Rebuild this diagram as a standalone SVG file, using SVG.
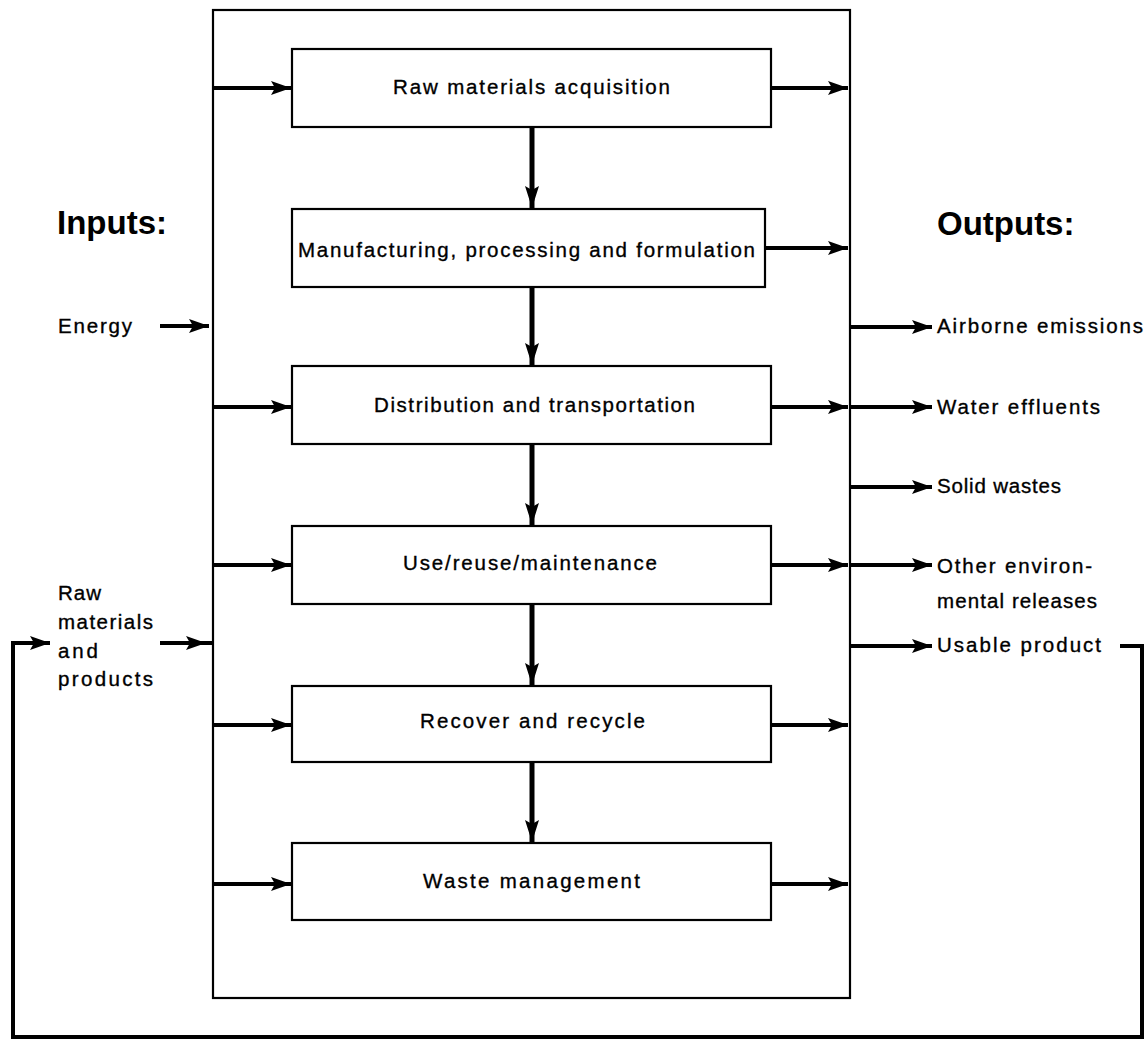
<svg xmlns="http://www.w3.org/2000/svg" width="1147" height="1041" viewBox="0 0 1147 1041">
  <style>
    .frame { fill: none; stroke: #000; stroke-width: 2.2; }
    .box { fill: #fff; stroke: #000; stroke-width: 2.2; }
    .lbl { font-family: "Liberation Sans", Arial, sans-serif; font-size: 20.5px; fill: #000; stroke: #000; stroke-width: 0.35; }
    .head { font-family: "Liberation Sans", Arial, sans-serif; font-size: 33px; font-weight: bold; fill: #000; }
    .flow { fill: none; stroke: #000; stroke-width: 4; marker-end: url(#ah); }
    .down { fill: none; stroke: #000; stroke-width: 5; marker-end: url(#ahv); }
    .loop { fill: none; stroke: #000; stroke-width: 4; stroke-linejoin: miter; }
  </style>
  <defs>
    <marker id="ah" markerUnits="userSpaceOnUse" markerWidth="22" markerHeight="14" refX="20" refY="7" orient="auto">
      <path d="M0,0 L20,7 L0,14 L4,7 z" fill="#000"/>
    </marker>
    <marker id="ahv" markerUnits="userSpaceOnUse" markerWidth="24" markerHeight="16" refX="22" refY="8" orient="auto">
      <path d="M0,1 L22,8 L0,15 L4,8 z" fill="#000"/>
    </marker>
  </defs>

  <rect width="1147" height="1041" fill="#fff"/>

  <!-- outer life-cycle frame -->
  <g id="frame">
    <rect class="frame" x="213" y="10" width="637" height="988"/>
  </g>

  <!-- stage boxes -->
  <g id="stage-raw">
    <rect class="box" x="292" y="49" width="479" height="78"/>
    <text class="lbl" x="393" y="94" textLength="277" lengthAdjust="spacing">Raw materials acquisition</text>
  </g>
  <g id="stage-manufacturing">
    <rect class="box" x="292" y="209" width="473" height="78"/>
    <text class="lbl" x="298" y="257" textLength="457" lengthAdjust="spacing">Manufacturing, processing and formulation</text>
  </g>
  <g id="stage-distribution">
    <rect class="box" x="292" y="366" width="479" height="78"/>
    <text class="lbl" x="374" y="412" textLength="321" lengthAdjust="spacing">Distribution and transportation</text>
  </g>
  <g id="stage-use">
    <rect class="box" x="292" y="526" width="479" height="78"/>
    <text class="lbl" x="403" y="570" textLength="254" lengthAdjust="spacing">Use/reuse/maintenance</text>
  </g>
  <g id="stage-recover">
    <rect class="box" x="292" y="686" width="479" height="76"/>
    <text class="lbl" x="420" y="728" textLength="225" lengthAdjust="spacing">Recover and recycle</text>
  </g>
  <g id="stage-waste">
    <rect class="box" x="292" y="843" width="479" height="77"/>
    <text class="lbl" x="423" y="888" textLength="217" lengthAdjust="spacing">Waste management</text>
  </g>

  <!-- input labels -->
  <g id="inputs">
    <text class="head" x="57" y="234">Inputs:</text>
  </g>
  <g id="input-energy">
    <text class="lbl" x="58" y="333" textLength="74" lengthAdjust="spacing">Energy</text>
  </g>
  <g id="input-raw">
    <text class="lbl" x="58" y="600" textLength="43" lengthAdjust="spacing">Raw</text>
    <text class="lbl" x="58" y="629" textLength="95" lengthAdjust="spacing">materials</text>
    <text class="lbl" x="58" y="658" textLength="40" lengthAdjust="spacing">and</text>
    <text class="lbl" x="58" y="686" textLength="95" lengthAdjust="spacing">products</text>
  </g>

  <!-- output labels -->
  <g id="outputs">
    <text class="head" x="937" y="235">Outputs:</text>
  </g>
  <g id="out-air">
    <text class="lbl" x="937" y="333" textLength="206" lengthAdjust="spacing">Airborne emissions</text>
  </g>
  <g id="out-water">
    <text class="lbl" x="937" y="414" textLength="163" lengthAdjust="spacing">Water effluents</text>
  </g>
  <g id="out-solid">
    <text class="lbl" x="937" y="493" textLength="124" lengthAdjust="spacing">Solid wastes</text>
  </g>
  <g id="out-other">
    <text class="lbl" x="937" y="573" textLength="155" lengthAdjust="spacing">Other environ-</text>
    <text class="lbl" x="937" y="608" textLength="160" lengthAdjust="spacing">mental releases</text>
  </g>
  <g id="out-usable">
    <text class="lbl" x="937" y="652" textLength="164" lengthAdjust="spacing">Usable product</text>
  </g>

  <g id="connectors">
    <!-- stage to stage -->
    <line class="down" x1="532" y1="127" x2="532" y2="208"/>
    <line class="down" x1="532" y1="287" x2="532" y2="365"/>
    <line class="down" x1="532" y1="444" x2="532" y2="525"/>
    <line class="down" x1="532" y1="604" x2="532" y2="685"/>
    <line class="down" x1="532" y1="762" x2="532" y2="842"/>

    <!-- inputs from the frame into stages -->
    <line class="flow" x1="213" y1="88" x2="291" y2="88"/>
    <line class="flow" x1="213" y1="407" x2="291" y2="407"/>
    <line class="flow" x1="213" y1="565" x2="291" y2="565"/>
    <line class="flow" x1="213" y1="725" x2="291" y2="725"/>
    <line class="flow" x1="213" y1="884" x2="291" y2="884"/>

    <!-- outside inputs -->
    <line class="flow" x1="160" y1="326" x2="209" y2="326"/>
    <line class="flow" x1="160" y1="643" x2="206" y2="643"/>
    <line x1="200" y1="643" x2="213" y2="643" stroke="#000" stroke-width="4"/>

    <!-- stage outputs to the frame -->
    <line class="flow" x1="771" y1="88" x2="848" y2="88"/>
    <line class="flow" x1="765" y1="248" x2="848" y2="248"/>
    <line class="flow" x1="771" y1="407" x2="848" y2="407"/>
    <line class="flow" x1="771" y1="565" x2="848" y2="565"/>
    <line class="flow" x1="771" y1="725" x2="848" y2="725"/>
    <line class="flow" x1="771" y1="884" x2="848" y2="884"/>

    <!-- frame outputs -->
    <line class="flow" x1="850" y1="327" x2="932" y2="327"/>
    <line class="flow" x1="850" y1="407" x2="932" y2="407"/>
    <line class="flow" x1="850" y1="487" x2="932" y2="487"/>
    <line class="flow" x1="850" y1="565" x2="932" y2="565"/>
    <line class="flow" x1="850" y1="646" x2="932" y2="646"/>

    <!-- usable product fed back as raw input -->
    <path class="loop" d="M1120,646 H1142 V1037 H13 V643 H30"/>
    <line class="flow" x1="24" y1="643" x2="50" y2="643"/>
  </g>
</svg>
